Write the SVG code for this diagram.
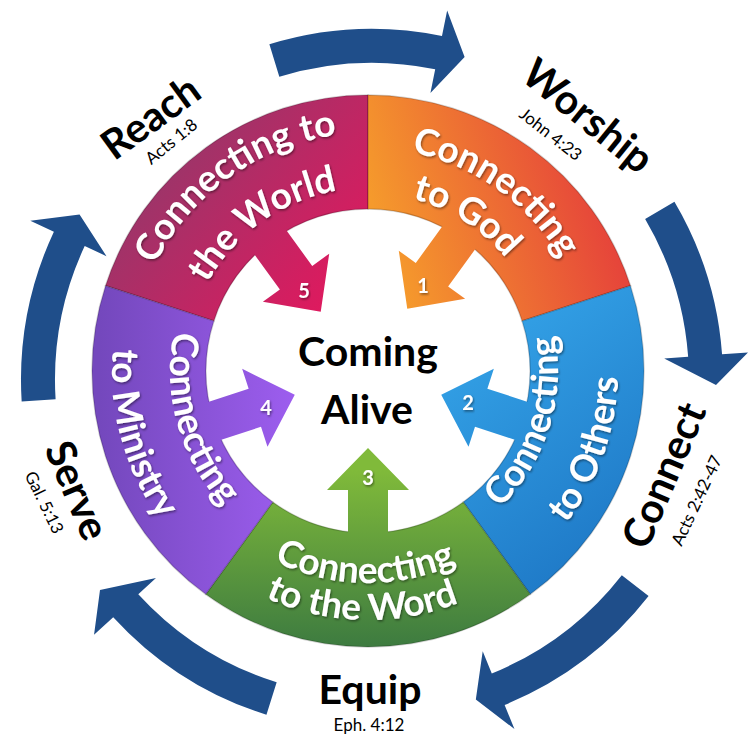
<svg xmlns="http://www.w3.org/2000/svg" xmlns:xlink="http://www.w3.org/1999/xlink" width="750" height="746" viewBox="0 0 750 746">
<style>
.lbl{font-family:Lato,"Open Sans","Liberation Sans",sans-serif;font-weight:700;font-size:37px;fill:#fff;text-anchor:middle}
.num{font-family:Lato,"Liberation Sans",sans-serif;font-weight:700;font-size:20px;fill:#fff;text-anchor:middle}
.big{font-family:Lato,"Liberation Sans",sans-serif;font-weight:700;font-size:41px;fill:#000;text-anchor:middle}
.ref{font-family:Lato,"Liberation Sans",sans-serif;font-weight:400;font-size:17px;fill:#000;text-anchor:middle}
.conn{fill:#1F4E8A}
.seg{stroke:rgba(0,0,0,0.18);stroke-width:1.5}
</style>
<defs>
<linearGradient id="gRed" gradientUnits="userSpaceOnUse" x1="120" y1="130" x2="330" y2="310"><stop offset="0" stop-color="#8A3C6C"/><stop offset="1" stop-color="#E0195E"/></linearGradient>
<linearGradient id="gOrange" gradientUnits="userSpaceOnUse" x1="390" y1="260" x2="610" y2="190"><stop offset="0" stop-color="#F59A2C"/><stop offset="1" stop-color="#E5403B"/></linearGradient>
<linearGradient id="gBlue" gradientUnits="userSpaceOnUse" x1="480" y1="330" x2="640" y2="540"><stop offset="0" stop-color="#33A1E6"/><stop offset="1" stop-color="#1E78C6"/></linearGradient>
<linearGradient id="gGreen" gradientUnits="userSpaceOnUse" x1="368" y1="470" x2="368" y2="650"><stop offset="0" stop-color="#80BA3A"/><stop offset="1" stop-color="#3C7A40"/></linearGradient>
<linearGradient id="gPurple" gradientUnits="userSpaceOnUse" x1="100" y1="400" x2="300" y2="400"><stop offset="0" stop-color="#7448BD"/><stop offset="1" stop-color="#9E5EF0"/></linearGradient>
<filter id="sh" x="-10%" y="-10%" width="120%" height="120%"><feDropShadow dx="1" dy="1.5" stdDeviation="0.8" flood-color="#000" flood-opacity="0.45"/></filter>
<path id="pRed1" d="M138.66,434.60 A238,238 0 0 1 502.81,174.86"/>
<path id="pRed2" d="M191.66,419.90 A183,183 0 0 1 471.65,220.18"/>
<path id="pOr1" d="M241.69,187.22 A223,223 0 0 1 582.89,430.59"/>
<path id="pOr2" d="M259.64,229.78 A178,178 0 0 1 541.78,409.53"/>
<path id="pBl1" d="M375.96,560.83 A190,190 0 0 0 483.88,220.43"/>
<path id="pBl2" d="M370.18,620.99 A250,250 0 0 0 527.02,178.09"/>
<path id="pGr1" d="M167.79,440.72 A212,212 0 0 0 566.18,446.28"/>
<path id="pGr2" d="M131.87,450.01 A249,249 0 0 0 599.67,462.26"/>
<path id="pPu1" d="M252.18,210.41 A198,198 0 0 0 353.50,568.47"/>
<path id="pPu2" d="M220.07,162.07 A256,256 0 0 0 347.02,626.14"/>
</defs>
<rect width="750" height="746" fill="#fff"/>

<g id="connectors">
<path class="conn" d="M279.32,76.85 L269.38,44.34 A351,351 0 0 1 441.98,36.05 L447.16,10.57 L464.62,57.02 L430.42,92.88 L435.20,69.37 A317,317 0 0 0 279.32,76.85 Z"/>
<path class="conn" d="M645.14,219.11 L674.43,201.85 A351,351 0 0 1 722.06,354.29 L747.99,352.39 L716,385 L664.21,358.54 L688.15,356.78 A317,317 0 0 0 645.14,219.11 Z"/>
<path class="conn" d="M621.80,575.16 L648.59,596.10 A351,351 0 0 1 504.62,704.98 L514.45,729.05 L475.83,699.56 L482.71,651.28 L491.78,673.50 A317,317 0 0 0 621.80,575.16 Z"/>
<path class="conn" d="M276.67,682.33 L266.45,714.76 A351,351 0 0 1 113.21,617.13 L94.05,634.70 L100,590 L155.98,577.95 L138.28,594.16 A317,317 0 0 0 276.67,682.33 Z"/>
<path class="conn" d="M55.59,399.35 L21.66,401.43 A351,351 0 0 1 53.89,231.66 L30.32,220.67 L79.56,214.55 L106.45,256.17 L84.70,246.03 A317,317 0 0 0 55.59,399.35 Z"/>
</g>

<g id="node-world">
<path class="seg" fill="url(#gRed)" d="M105.51,285.71 A276,276 0 0 1 368,95 L368,209 A162,162 0 0 0 213.93,320.94 Z"/>
<path fill="url(#gRed)" d="M320.74,311.71 L262.88,301.83 L279.87,289.49 L248.72,246.61 L281.08,223.09 L312.23,265.97 L329.22,253.63 Z"/>
<text class="lbl" filter="url(#sh)"><textPath href="#pRed1" xlink:href="#pRed1" startOffset="50%">Connecting to</textPath></text>
<text class="lbl" filter="url(#sh)"><textPath href="#pRed2" xlink:href="#pRed2" startOffset="50%">the World</textPath></text>
<text class="num" filter="url(#sh)" x="304" y="298">5</text>
</g>

<g id="node-god">
<path class="seg" fill="url(#gOrange)" d="M368,95 A276,276 0 0 1 630.49,285.71 L522.07,320.94 A162,162 0 0 0 368,209 Z"/>
<path fill="url(#gOrange)" d="M407.26,308.71 L398.78,250.63 L415.77,262.97 L446.92,220.09 L479.28,243.61 L448.13,286.49 L465.12,298.83 Z"/>
<text class="lbl" filter="url(#sh)"><textPath href="#pOr1" xlink:href="#pOr1" startOffset="50%">Connecting</textPath></text>
<text class="lbl" filter="url(#sh)"><textPath href="#pOr2" xlink:href="#pOr2" startOffset="50%">to God</textPath></text>
<text class="num" filter="url(#sh)" x="423" y="293">1</text>
</g>

<g id="node-others">
<path class="seg" fill="url(#gBlue)" d="M630.49,285.71 A276,276 0 0 1 530.23,594.29 L463.22,502.06 A162,162 0 0 0 522.07,320.94 Z"/>
<path fill="url(#gBlue)" d="M441.23,394.79 L493.85,368.78 L487.36,388.75 L537.76,405.13 L525.40,443.17 L475.0,426.79 L468.51,446.76 Z"/>
<text class="lbl" filter="url(#sh)"><textPath href="#pBl1" xlink:href="#pBl1" startOffset="50%">Connecting</textPath></text>
<text class="lbl" filter="url(#sh)"><textPath href="#pBl2" xlink:href="#pBl2" startOffset="50%">to Others</textPath></text>
<text class="num" filter="url(#sh)" x="468" y="410">2</text>
</g>

<g id="node-word">
<path class="seg" fill="url(#gGreen)" d="M530.23,594.29 A276,276 0 0 1 205.77,594.29 L272.78,502.06 A162,162 0 0 0 463.22,502.06 Z"/>
<path fill="url(#gGreen)" d="M368,448 L409,490 L388,490 L388,543 L348,543 L348,490 L327,490 Z"/>
<text class="lbl" filter="url(#sh)"><textPath href="#pGr1" xlink:href="#pGr1" startOffset="50%">Connecting</textPath></text>
<text class="lbl" filter="url(#sh)"><textPath href="#pGr2" xlink:href="#pGr2" startOffset="50%">to the Word</textPath></text>
<text class="num" filter="url(#sh)" x="368" y="485">3</text>
</g>

<g id="node-ministry">
<path class="seg" fill="url(#gPurple)" d="M205.77,594.29 A276,276 0 0 1 105.51,285.71 L213.93,320.94 A162,162 0 0 0 272.78,502.06 Z"/>
<path fill="url(#gPurple)" d="M294.77,394.79 L267.49,446.76 L261.0,426.79 L210.60,443.17 L198.24,405.13 L248.64,388.75 L242.15,368.78 Z"/>
<text class="lbl" filter="url(#sh)"><textPath href="#pPu1" xlink:href="#pPu1" startOffset="50%">Connecting</textPath></text>
<text class="lbl" filter="url(#sh)"><textPath href="#pPu2" xlink:href="#pPu2" startOffset="50%">to Ministry</textPath></text>
<text class="num" filter="url(#sh)" x="266" y="415">4</text>
</g>

<g id="node-center">
<text class="big" x="368" y="366">Coming</text>
<text class="big" x="367" y="424">Alive</text>
</g>

<g id="label-reach">
<text class="big" transform="translate(159,129) rotate(-36)">Reach</text>
<text class="ref" transform="translate(175,146) rotate(-39)">Acts 1:8</text>
</g>
<g id="label-worship">
<text class="big" transform="translate(579,127) rotate(39)">Worship</text>
<text class="ref" transform="translate(547,139) rotate(38)">John 4:23</text>
</g>
<g id="label-connect">
<text class="big" transform="translate(677,481) rotate(-67)">Connect</text>
<text class="ref" transform="translate(702,503) rotate(-65)">Acts 2:42-47</text>
</g>
<g id="label-equip">
<text class="big" x="370" y="704">Equip</text>
<text class="ref" x="369" y="731">Eph. 4:12</text>
</g>
<g id="label-serve">
<text class="big" transform="translate(64,496) rotate(67)">Serve</text>
<text class="ref" transform="translate(39,505) rotate(64)">Gal. 5:13</text>
</g>
</svg>
